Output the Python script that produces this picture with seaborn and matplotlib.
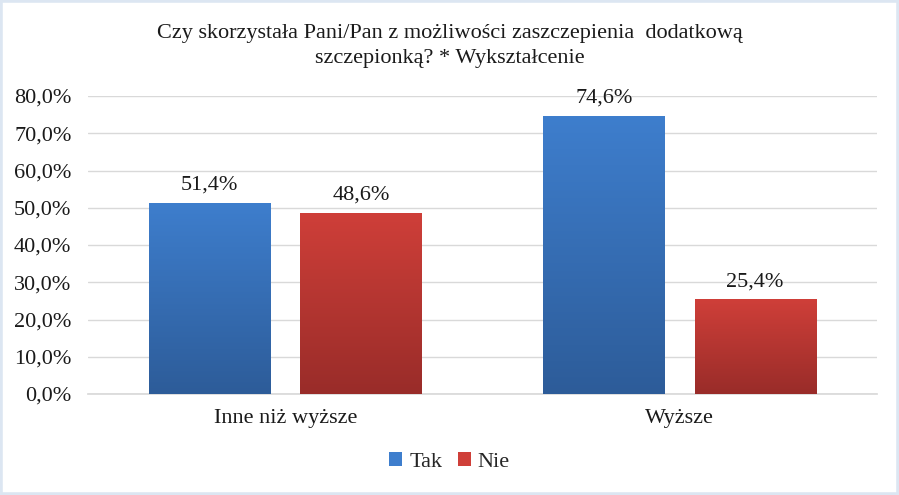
import numpy as np
import pandas as pd
import matplotlib
matplotlib.use("Agg")
import matplotlib.pyplot as plt
import matplotlib.colors as mcolors
from matplotlib.patches import Patch, Rectangle
import seaborn as sns

# data
categories = ["Inne niż wyższe", "Wyższe"]
answers = ["Tak", "Nie"]
tak_values = [51.4, 74.6]
nie_values = [48.6, 25.4]
y_ticks = [0, 10, 20, 30, 40, 50, 60, 70, 80]
title = "Czy skorzystała Pani/Pan z możliwości zaszczepienia  dodatkową\nszczepionką? * Wykształcenie"

df = pd.DataFrame({
    "kategoria": categories * 2,
    "odpowiedz": ["Tak"] * len(categories) + ["Nie"] * len(categories),
    "procent": tak_values + nie_values,
})

# gradient colours (top, bottom) per answer
grad = {"Tak": ("#3e7ecd", "#2d5c99"), "Nie": ("#cf3f39", "#992c29")}

sns.set_theme(style="white")
plt.rcParams["font.family"] = ["Liberation Serif", "DejaVu Serif"]

fig = plt.figure(figsize=(8.99, 4.95), dpi=100)
ax = fig.add_axes([0.098, 0.204, 0.877, 0.602])

sns.barplot(data=df, x="kategoria", y="procent", hue="odpowiedz",
            hue_order=answers, order=categories,
            palette={"Tak": "#3670b8", "Nie": "#b83632"},
            width=0.768, gap=0.2, legend=False, ax=ax, zorder=2)

# gradient fill on every bar, clipped to the bar shape
for answer, cont in zip(answers, ax.containers):
    top, bottom = grad[answer]
    cmap = mcolors.LinearSegmentedColormap.from_list(answer, [bottom, top])
    g = np.linspace(0, 1, 256).reshape(-1, 1)
    for bar in cont:
        x0, y0 = bar.get_x(), bar.get_y()
        w, h = bar.get_width(), bar.get_height()
        im = ax.imshow(g, cmap=cmap, aspect="auto", origin="lower",
                       extent=[x0, x0 + w, y0, y0 + h], zorder=3)
        im.set_clip_path(bar)
        bar.set_edgecolor("none")
        ax.annotate(f"{h:.1f}%".replace(".", ","), (x0 + w / 2, h),
                    xytext=(0, 6), textcoords="offset points",
                    ha="center", va="bottom", fontsize=16, color="#1a1a1a")

ax.set_xlim(-0.5, 1.5)
ax.set_ylim(0, 80)
ax.set_yticks(y_ticks)
ax.set_yticklabels([f"{t:.1f}%".replace(".", ",") for t in y_ticks])
ax.yaxis.grid(True, color="#d9d9d9", linewidth=1, zorder=0)
ax.set_axisbelow(True)
for s in ["top", "right", "left"]:
    ax.spines[s].set_visible(False)
ax.spines["bottom"].set_color("#d9d9d9")
ax.tick_params(axis="both", length=0, labelsize=16, colors="#1a1a1a")
ax.tick_params(axis="x", pad=11)
ax.tick_params(axis="y", pad=12)
ax.set_xlabel("")
ax.set_ylabel("")

fig.text(0.5, 0.907, title, ha="center", va="center", fontsize=16,
         color="#1a1a1a", linespacing=1.38)

handles = [Patch(facecolor=grad[a][0], edgecolor="none") for a in answers]
fig.legend(handles, answers, loc="center", bbox_to_anchor=(0.5, 0.067),
           ncol=2, frameon=False, fontsize=16, handlelength=0.6,
           handleheight=0.6, handletextpad=0.3, columnspacing=0.7)

# light frame round the chart
fig.patches.append(Rectangle((0, 0), 1, 1, transform=fig.transFigure,
                             fill=False, edgecolor="#dce6f2", linewidth=4))

fig.savefig("out.png", dpi=100, facecolor="white")
